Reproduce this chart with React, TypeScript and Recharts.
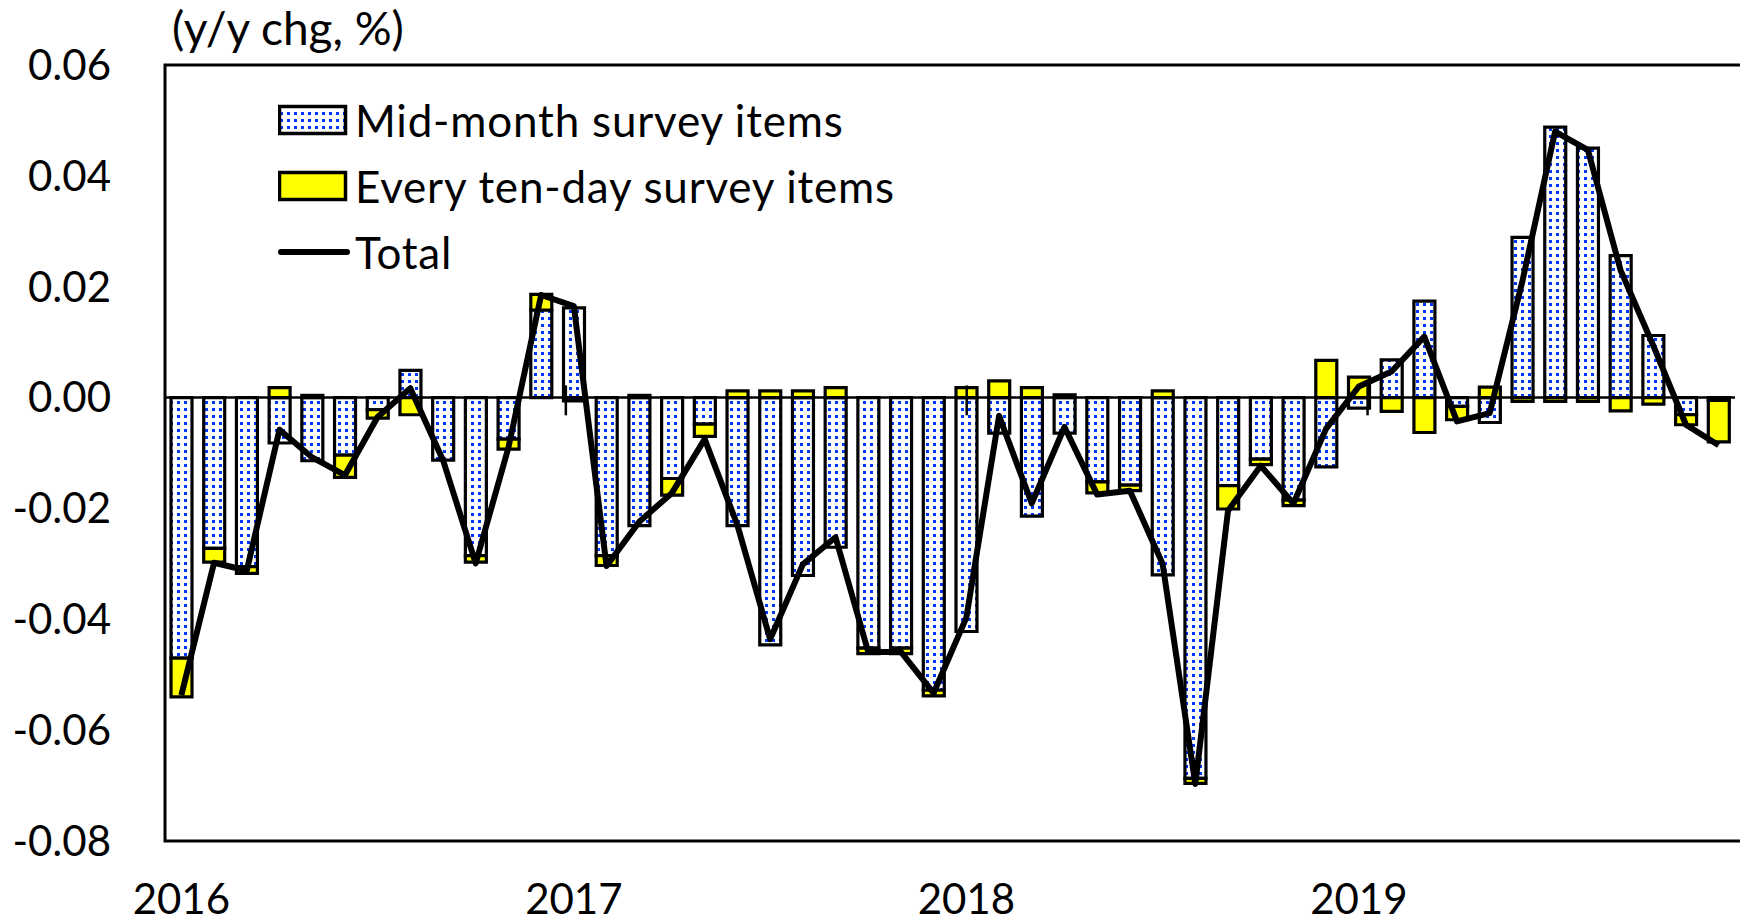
import React from 'react';
import { ComposedChart, Bar, Line, XAxis, YAxis, ReferenceLine, ReferenceArea, Legend } from 'recharts';

const months = [
  '2016-01', '2016-02', '2016-03', '2016-04', '2016-05', '2016-06', '2016-07', '2016-08', '2016-09', '2016-10', '2016-11', '2016-12',
  '2017-01', '2017-02', '2017-03', '2017-04', '2017-05', '2017-06', '2017-07', '2017-08', '2017-09', '2017-10', '2017-11', '2017-12',
  '2018-01', '2018-02', '2018-03', '2018-04', '2018-05', '2018-06', '2018-07', '2018-08', '2018-09', '2018-10', '2018-11', '2018-12',
  '2019-01', '2019-02', '2019-03', '2019-04', '2019-05', '2019-06', '2019-07', '2019-08', '2019-09', '2019-10', '2019-11', '2019-12',
];

const yearLabels = ['2016', '2017', '2018', '2019'];

const midMonth = [
  -0.047, -0.0272, -0.0305, -0.0082, -0.0114, -0.0104, -0.0022, 0.0049, -0.0113, -0.0285, -0.0075, 0.0158,
  0.0162, -0.0285, -0.0231, -0.0146, -0.0048, -0.0231, -0.0446, -0.0321, -0.027, -0.0452, -0.0452, -0.0528,
  -0.0422, -0.0064, -0.0214, -0.0064, -0.0152, -0.0158, -0.032, -0.0687, -0.0159, -0.0111, -0.0185, -0.0125,
  -0.0019, 0.0068, 0.0174, -0.0016, -0.0045, 0.0289, 0.0488, 0.045, 0.0256, 0.0112, -0.0031, -0.0005,
];

const tenDay = [
  -0.007, -0.0025, -0.0012, 0.0018, 0.0004, -0.004, -0.0015, -0.0031, 0, -0.0012, -0.0018, 0.0028,
  -0.0006, -0.0018, 0.0004, -0.003, -0.0022, 0.0012, 0.0012, 0.0012, 0.0018, -0.001, -0.001, -0.001,
  0.0018, 0.003, 0.0018, 0.0005, -0.002, -0.001, 0.0012, -0.0009, -0.0042, -0.001, -0.001, 0.0067,
  0.0037, -0.0025, -0.0063, -0.0024, 0.0019, -0.0007, -0.0007, -0.0007, -0.0024, -0.0012, -0.0018, -0.0075,
];

const total = [
  -0.0537, -0.0298, -0.0312, -0.0058, -0.0108, -0.014, -0.0035, 0.0017, -0.0113, -0.0299, -0.009, 0.0185,
  0.0165, -0.0304, -0.0224, -0.0172, -0.0075, -0.023, -0.0436, -0.0301, -0.0252, -0.0459, -0.0459, -0.0533,
  -0.0397, -0.0033, -0.0191, -0.0053, -0.0175, -0.0168, -0.03, -0.0697, -0.0204, -0.0123, -0.0191, -0.0056,
  0.002, 0.0047, 0.011, -0.0043, -0.0028, 0.021, 0.048, 0.0447, 0.023, 0.0094, -0.0049, -0.0086,
];

const yTicks = [0.06, 0.04, 0.02, 0, -0.02, -0.04, -0.06, -0.08];
const yearBoundaries = [12, 24, 36];
const legendLabels = ['Mid-month survey items', 'Every ten-day survey items', 'Total'];
const axisTitle = '(y/y chg, %)';

const data = months.map((m, i) => ({ month: m, mid: midMonth[i], ten: tenDay[i], total: total[i] }));

const FONT = 'Lato, "Open Sans", sans-serif';
const BLUE = '#0036ff';
const YELLOW = '#ffff00';

const formatYear = (v: string) => {
  const i = months.indexOf(v);
  return i % 12 === 0 ? yearLabels[i / 12] : '';
};

const DotPattern = ({ id }: { id: string }) => (
  <pattern id={id} width="7" height="7" patternUnits="userSpaceOnUse">
    <rect width="7" height="7" fill="#ffffff" />
    <rect x="2" y="2" width="3" height="3" fill={BLUE} />
  </pattern>
);

const LegendContent = () => (
  <div style={{ fontFamily: FONT, fontSize: 44, letterSpacing: 0.8, color: '#000', lineHeight: 1 }}>
    {legendLabels.map((label, i) => (
      <div key={label} style={{ display: 'flex', alignItems: 'center', height: 66, whiteSpace: 'nowrap' }}>
        <svg width={72} height={34} style={{ marginRight: 5, flex: 'none' }}>
          <defs>
            <DotPattern id="legendDots" />
          </defs>
          {i === 0 && <rect x={1.5} y={3.5} width={66} height={27} fill="url(#legendDots)" stroke="#000" strokeWidth={3.5} />}
          {i === 1 && <rect x={1.5} y={3.5} width={66} height={27} fill={YELLOW} stroke="#000" strokeWidth={3.5} />}
          {i === 2 && <line x1={3} y1={17} x2={69} y2={17} stroke="#000" strokeWidth={6} strokeLinecap="round" />}
        </svg>
        <span>{label}</span>
      </div>
    ))}
  </div>
);

export default function App() {
  return (
    <div style={{ position: 'absolute', left: 0, top: 0, width: 1740, height: 923, background: '#fff' }}>
      <ComposedChart
        width={1740}
        height={923}
        data={data}
        stackOffset="sign"
        margin={{ top: 65, right: 5, bottom: 0, left: 105 }}
        barSize={21}
      >
        <defs>
          <DotPattern id="midDots" />
        </defs>
        <text x={172} y={45} fontSize={46} fontFamily={FONT} fill="#000">{axisTitle}</text>
        <XAxis
          xAxisId="cat"
          dataKey="month"
          interval={11}
          axisLine={false}
          tickLine={false}
          tickSize={0}
          tickMargin={43}
          height={82}
          tickFormatter={formatYear}
          tick={{ fontSize: 42, fontFamily: FONT, fill: '#000' }}
        />
        <XAxis xAxisId="num" type="number" domain={[0, 48]} hide allowDataOverflow />
        <YAxis
          domain={[-0.08, 0.06]}
          ticks={yTicks}
          interval={0}
          width={60}
          axisLine={false}
          tickLine={false}
          tickSize={0}
          tickMargin={54}
          allowDataOverflow
          tickFormatter={(v: number) => v.toFixed(2)}
          tick={{ fontSize: 42, fontFamily: FONT, fill: '#000' }}
        />
        <ReferenceLine xAxisId="cat" y={0} stroke="#000" strokeWidth={2.5} />
        {yearBoundaries.map((b) => (
          <ReferenceLine
            key={b}
            xAxisId="num"
            segment={[{ x: b, y: 0.0022 }, { x: b, y: -0.0032 }]}
            stroke="#000"
            strokeWidth={2.5}
          />
        ))}
        <Bar xAxisId="cat" dataKey="mid" stackId="s" fill="url(#midDots)" stroke="#000" strokeWidth={3.2} isAnimationActive={false} />
        <Bar xAxisId="cat" dataKey="ten" stackId="s" fill={YELLOW} stroke="#000" strokeWidth={3.2} isAnimationActive={false} />
        <Line
          xAxisId="cat"
          dataKey="total"
          type="linear"
          stroke="#000"
          strokeWidth={6}
          strokeLinejoin="round"
          dot={false}
          activeDot={false}
          isAnimationActive={false}
        />
        <ReferenceArea
          xAxisId="num"
          x1={0}
          x2={48}
          y1={-0.08}
          y2={0.06}
          fill="none"
          stroke="#000"
          strokeWidth={3}
          ifOverflow="visible"
        />
        <Legend
          layout="vertical"
          align="center"
          verticalAlign="middle"
          content={() => <LegendContent />}
          wrapperStyle={{ left: 278, top: 87, width: 800, height: 210 }}
        />
      </ComposedChart>
    </div>
  );
}
